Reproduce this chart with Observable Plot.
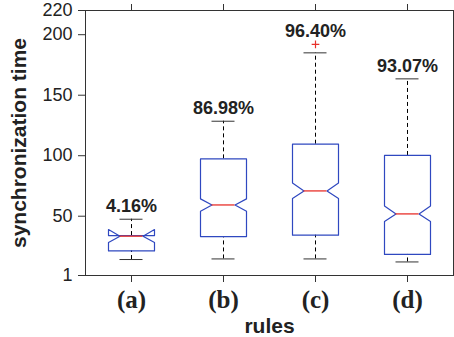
<!DOCTYPE html>
<html><head><meta charset="utf-8">
<script src="https://cdn.jsdelivr.net/npm/d3@7"></script>
<script src="https://cdn.jsdelivr.net/npm/@observablehq/plot@0.6"></script>
<style>
body{margin:0;background:#fff}
g[aria-label="x-axis tick label"]{font-family:"Liberation Serif","Times New Roman",serif;font-weight:bold;font-size:25px}
</style></head><body><div id="chart"></div>
<script>
const categories = ["(a)", "(b)", "(c)", "(d)"];
const percentLabels = ["4.16%", "86.98%", "96.40%", "93.07%"];
const whiskerLow = [14.2, 14.7, 14.7, 12.2];
const q1 = [21.3, 33.2, 34.3, 18.4];
const notchLow = [28.3, 54.1, 64.6, 45.6];
const median = [33.5, 59.3, 70.9, 51.9];
const notchHigh = [39.0, 64.3, 77.5, 58.5];
const q3 = [34.0, 97.4, 109.5, 100.2];
const whiskerHigh = [47.5, 128.5, 185, 163.5];
const outliers = [[], [], [192], []];
const yTicks = [1, 50, 100, 150, 200, 220];

const BLUE = "#2f48c0", RED = "#e8302a", INK = "#222";
const HALF = 0.25, NOTCH = 0.125;

const stats = categories.map((c, i) => ({
  pos: i + 1, cat: c, label: percentLabels[i],
  lo: whiskerLow[i], q1: q1[i], nlo: notchLow[i], med: median[i],
  nhi: notchHigh[i], q3: q3[i], hi: whiskerHigh[i],
  top: Math.max(whiskerHigh[i], ...outliers[i])
}));

const boxPts = stats.flatMap(s => {
  const L = s.pos - HALF, R = s.pos + HALF, nl = s.pos - NOTCH, nr = s.pos + NOTCH;
  return [
    [L, s.q1], [L, s.nlo], [nl, s.med], [L, s.nhi], [L, s.q3],
    [R, s.q3], [R, s.nhi], [nr, s.med], [R, s.nlo], [R, s.q1], [L, s.q1]
  ].map(([x, y]) => ({g: s.cat, x, y}));
});

const outlierRows = outliers.flatMap((arr, i) => arr.map(v => ({pos: i + 1, v})));
const xTicks = categories.map((_, i) => i + 1);

const chart = Plot.plot({
  width: 454, height: 337,
  marginLeft: 85, marginRight: 1, marginTop: 10, marginBottom: 62,
  style: {fontFamily: "'Liberation Sans', Arial, sans-serif", fontSize: "18px", color: INK, background: "#fff"},
  x: {domain: [0.5, 4.5]},
  y: {domain: [1, 220]},
  marks: [
    Plot.ruleX(stats, {x: "pos", y1: "q3", y2: "hi", stroke: "#000", strokeDasharray: "4,3"}),
    Plot.ruleX(stats, {x: "pos", y1: "lo", y2: "q1", stroke: "#000", strokeDasharray: "4,3"}),
    Plot.ruleY(stats, {y: "hi", x1: d => d.pos - NOTCH, x2: d => d.pos + NOTCH, stroke: "#333"}),
    Plot.ruleY(stats, {y: "lo", x1: d => d.pos - NOTCH, x2: d => d.pos + NOTCH, stroke: "#333"}),
    Plot.line(boxPts, {x: "x", y: "y", z: "g", stroke: BLUE, strokeWidth: 1.2}),
    Plot.ruleY(stats, {y: "med", x1: d => d.pos - NOTCH, x2: d => d.pos + NOTCH, stroke: RED, strokeWidth: 1.3}),
    Plot.dot(outlierRows, {x: "pos", y: "v", symbol: "plus", r: 2.6, stroke: RED, strokeWidth: 1.2}),
    Plot.text(stats, {x: "pos", y: "top", text: "label", dy: -13, fontSize: 18, fontWeight: "bold", fill: INK}),
    Plot.frame({stroke: "#333"}),
    Plot.axisY({ticks: yTicks, tickSize: 7, tickPadding: 6, fontSize: 18, label: null, stroke: "#333"}),
    Plot.axisX({ticks: xTicks, tickFormat: i => categories[i - 1], tickSize: 7, tickPadding: 8,
      fontSize: 25, fontWeight: "bold", fontFamily: "'Liberation Serif', serif", label: null, stroke: "#333"}),
    Plot.axisX({anchor: "top", ticks: xTicks, tickFormat: () => "", tickSize: 7, label: null, stroke: "#333"}),
    Plot.text(["synchronization time"], {text: d => d, frameAnchor: "left", dx: -60, rotate: -90,
      textAnchor: "middle", lineAnchor: "bottom", fontSize: 21, fontWeight: "bold", fill: INK}),
    Plot.text(["rules"], {text: d => d, frameAnchor: "bottom", dy: 57, textAnchor: "middle", lineAnchor: "bottom",
      fontSize: 21, fontWeight: "bold", fill: INK})
  ]
});
document.getElementById("chart").appendChild(chart);
</script>
</body></html>
